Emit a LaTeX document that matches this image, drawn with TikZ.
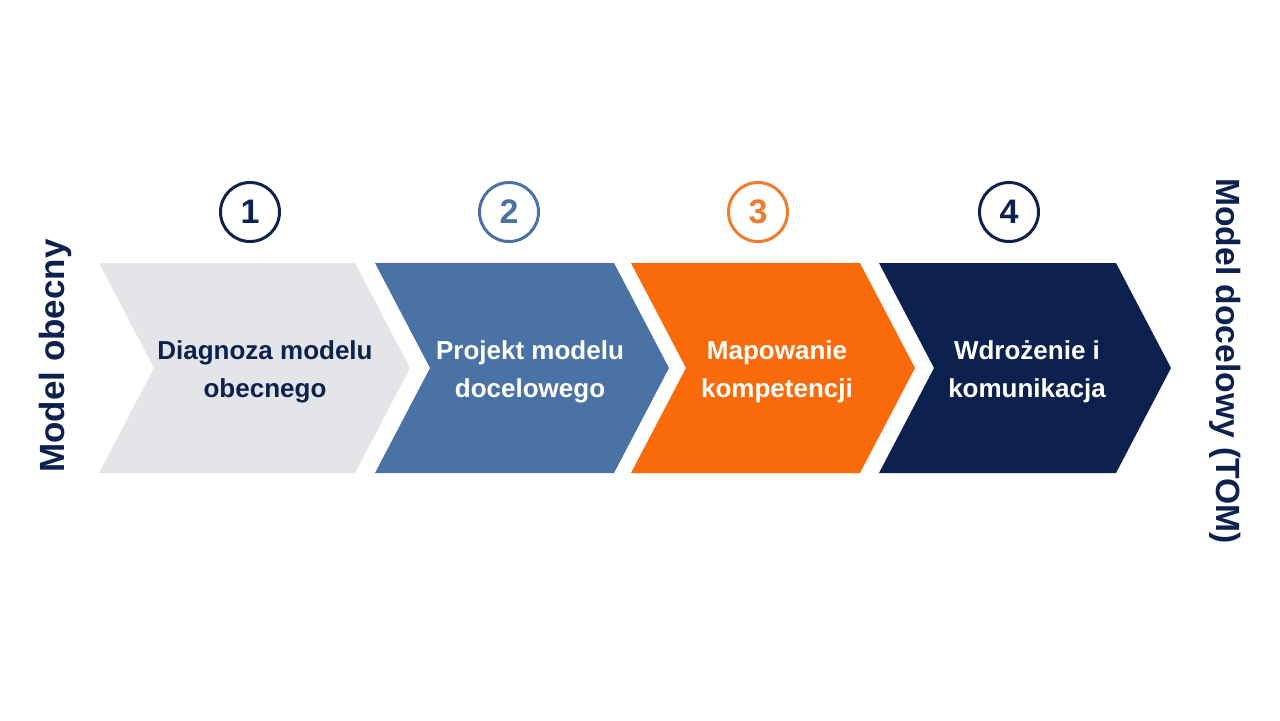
\documentclass[tikz,border=0pt]{standalone}
\usepackage{fontspec}
\setmainfont{Liberation Sans}
\definecolor{chgray}{HTML}{E3E5E8}
\definecolor{chblue}{HTML}{4A72A5}
\definecolor{chorange}{HTML}{F86A0A}
\definecolor{numorange}{HTML}{EF7B2E}
\definecolor{navy}{HTML}{0C214E}

\begin{document}
\begin{tikzpicture}[x=0.5pt,y=-0.5pt,
  steplabel/.style={align=center,inner sep=0pt,font=\bfseries\fontsize{13}{19}\selectfont},
  stepnum/.style={circle,draw,line width=1.5pt,minimum size=29.5pt,inner sep=0pt,font=\bfseries\fontsize{17}{17}\selectfont},
  sidelabel/.style={inner sep=0pt,text=navy,font=\bfseries\fontsize{17.5}{17.5}\selectfont}]
\fill[white] (0,0) rectangle (1280,720);
% chevrons
\foreach \xl/\xr/\col in {99/355/chgray, 375/614/chblue, 631/860/chorange, 879/1116/navy}
  \fill[\col] (\xl,263) -- (\xr,263) -- (\xr+55,368) -- (\xr,473) -- (\xl,473) -- (\xl+55,368) -- cycle;
\node[steplabel,text=navy]  (s1) at (265,372) {Diagnoza modelu\\obecnego};
\node[steplabel,text=white] (s2) at (530,372) {Projekt modelu\\docelowego};
\node[steplabel,text=white] (s3) at (777,372) {Mapowanie\\kompetencji};
\node[steplabel,text=white] (s4) at (1027,372) {Wdrożenie i\\komunikacja};
% numbers
\node[stepnum,navy]      (n1) at (250,212) {1};
\node[stepnum,chblue]    (n2) at (509,212) {2};
\node[stepnum,numorange] (n3) at (758,212) {3};
\node[stepnum,navy]      (n4) at (1009,212) {4};
\node[sidelabel,rotate=90]  (cur) at (55,356) {Model obecny};
\node[sidelabel,rotate=-90,font=\bfseries\fontsize{16.8}{16.8}\selectfont] (tom) at (1225,361) {Model docelowy (TOM)};
\end{tikzpicture}
\end{document}
